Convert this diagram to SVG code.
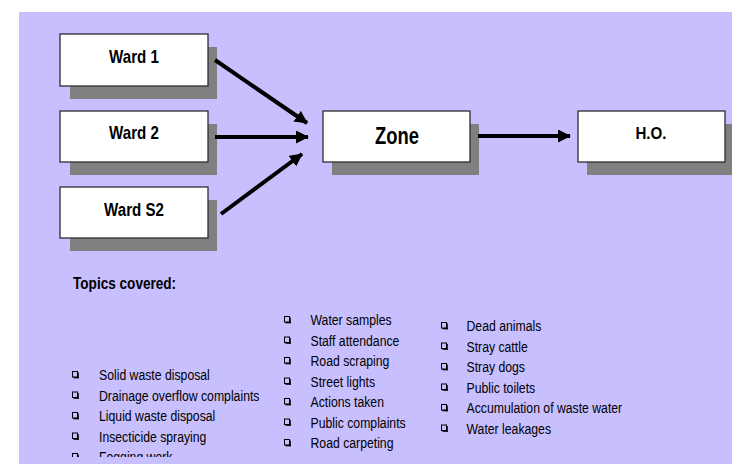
<svg xmlns="http://www.w3.org/2000/svg" width="732" height="464" viewBox="0 0 732 464">
<style>
.bg{fill:#c8bfff}
.shadow{fill:#808080}
.box{fill:#ffffff;stroke:#2b2b33;stroke-width:1.3}
.lbl{font-family:"Liberation Sans",Arial,sans-serif;font-weight:bold;fill:#000;text-anchor:middle}
.hdr{font-family:"Liberation Sans",Arial,sans-serif;font-weight:bold;font-size:16px;fill:#000}
.item{font-family:"Liberation Sans",Arial,sans-serif;font-size:15.5px;fill:#000}
.conn{stroke:#000;stroke-width:4;fill:none;marker-end:url(#ah)}
.cb{fill:none;stroke:#000;stroke-width:1}
.cbs{fill:#000}
</style>
<defs>
<marker id="ah" markerUnits="userSpaceOnUse" markerWidth="13" markerHeight="13" refX="12" refY="6.5" orient="auto">
<path d="M0,0 L13,6.5 L0,13 z" fill="#000"/>
</marker>
<g id="chk">
<rect class="cb" x="0.5" y="0.5" width="5" height="5.5"/>
<rect class="cbs" x="5.5" y="1.5" width="1.3" height="5.8"/>
<rect class="cbs" x="1.5" y="6" width="5.3" height="1.3"/>
</g>
<clipPath id="clipBottom"><rect x="0" y="0" width="732" height="457"/></clipPath>
</defs>
<rect class="bg" x="19" y="12" width="713" height="452"/>

<g id="ward1">
<rect class="shadow" x="70" y="47" width="147" height="52"/>
<rect class="box" x="60" y="34" width="148" height="52"/>
<text class="lbl" font-size="18" transform="translate(134,63) scale(0.84,1)">Ward 1</text>
</g>
<g id="ward2">
<rect class="shadow" x="70" y="124" width="147" height="51"/>
<rect class="box" x="60" y="111" width="148" height="51"/>
<text class="lbl" font-size="18" transform="translate(134,139) scale(0.84,1)">Ward 2</text>
</g>
<g id="wardS2">
<rect class="shadow" x="70" y="200" width="147" height="51"/>
<rect class="box" x="60" y="187" width="148" height="51"/>
<text class="lbl" font-size="18" transform="translate(134,216) scale(0.84,1)">Ward S2</text>
</g>
<g id="zone">
<rect class="shadow" x="332" y="124" width="147" height="51"/>
<rect class="box" x="323" y="111" width="147" height="51"/>
<text class="lbl" font-size="23" transform="translate(397,144) scale(0.8,1)">Zone</text>
</g>
<g id="ho">
<rect class="shadow" x="587" y="124" width="145" height="51"/>
<rect class="box" x="578" y="111" width="147" height="51"/>
<text class="lbl" font-size="17" transform="translate(651,139) scale(0.89,1)">H.O.</text>
</g>

<g id="connectors">
<line class="conn" x1="215" y1="60" x2="307" y2="123"/>
<line class="conn" x1="215" y1="137" x2="308" y2="137"/>
<line class="conn" x1="221" y1="214" x2="302" y2="154"/>
<line class="conn" x1="478" y1="136" x2="570" y2="136"/>
</g>

<g id="topics">
<text class="hdr" transform="translate(73,289) scale(0.85,1)">Topics covered:</text>

<g id="list-left" clip-path="url(#clipBottom)">
<use href="#chk" x="72" y="371"/>
<use href="#chk" x="72" y="391.5"/>
<use href="#chk" x="72" y="412"/>
<use href="#chk" x="72" y="432.5"/>
<use href="#chk" x="72" y="453"/>
<g transform="translate(99,0) scale(0.79,1)">
<text class="item" x="0" y="380.5">Solid waste disposal</text>
<text class="item" x="0" y="401">Drainage overflow complaints</text>
<text class="item" x="0" y="421.5">Liquid waste disposal</text>
<text class="item" x="0" y="442">Insecticide spraying</text>
<text class="item" x="0" y="462.5">Fogging work</text>
</g>
</g>

<g id="list-mid">
<use href="#chk" x="284" y="316"/>
<use href="#chk" x="284" y="336.5"/>
<use href="#chk" x="284" y="357"/>
<use href="#chk" x="284" y="377.5"/>
<use href="#chk" x="284" y="398"/>
<use href="#chk" x="284" y="418.5"/>
<use href="#chk" x="284" y="439"/>
<g transform="translate(310.5,0) scale(0.79,1)">
<text class="item" x="0" y="325.5">Water samples</text>
<text class="item" x="0" y="346">Staff attendance</text>
<text class="item" x="0" y="366.5">Road scraping</text>
<text class="item" x="0" y="387">Street lights</text>
<text class="item" x="0" y="407.5">Actions taken</text>
<text class="item" x="0" y="428">Public complaints</text>
<text class="item" x="0" y="448.5">Road carpeting</text>
</g>
</g>

<g id="list-right">
<use href="#chk" x="441" y="322"/>
<use href="#chk" x="441" y="342.5"/>
<use href="#chk" x="441" y="363"/>
<use href="#chk" x="441" y="383.5"/>
<use href="#chk" x="441" y="404"/>
<use href="#chk" x="441" y="424.5"/>
<g transform="translate(466.5,0) scale(0.79,1)">
<text class="item" x="0" y="331.5">Dead animals</text>
<text class="item" x="0" y="352">Stray cattle</text>
<text class="item" x="0" y="372.5">Stray dogs</text>
<text class="item" x="0" y="393">Public toilets</text>
<text class="item" x="0" y="413.5">Accumulation of waste water</text>
<text class="item" x="0" y="434">Water leakages</text>
</g>
</g>
</g>
</svg>
